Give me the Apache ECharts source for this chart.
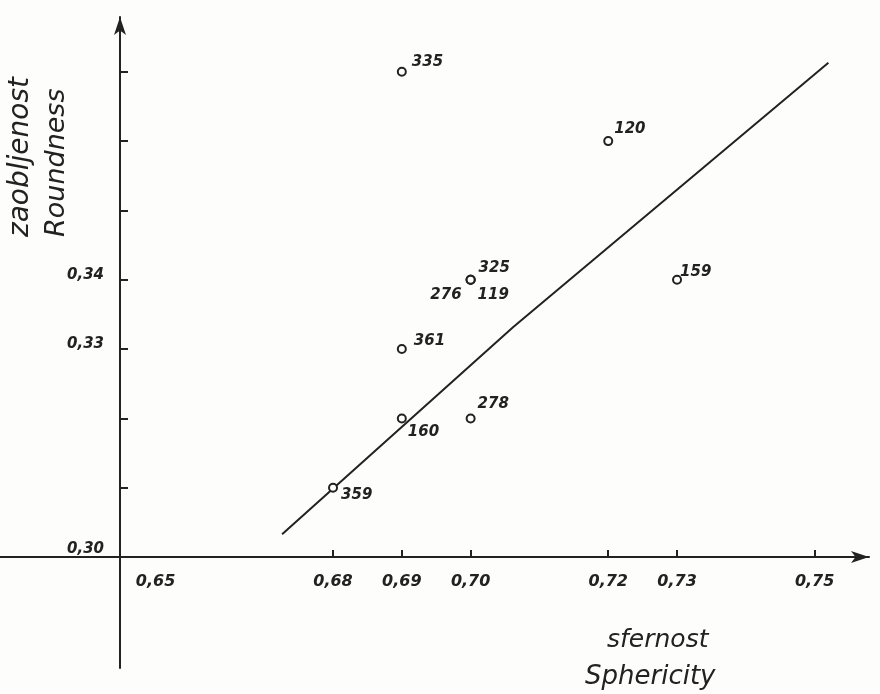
<!DOCTYPE html>
<html>
<head>
<meta charset="utf-8">
<script src="https://cdn.jsdelivr.net/npm/echarts@6/dist/echarts.min.js"></script>
<style>
html,body{margin:0;padding:0;background:#fdfdfb;}
#c{width:880px;height:694px;}
</style>
</head>
<body>
<div id="c"></div>
<script>
// ---- data ----
const sampleIds  = ['335', '120', '325', '276', '119', '159', '361', '160', '278', '359'];
const sphericity = [0.69, 0.72, 0.70, 0.70, 0.70, 0.73, 0.69, 0.69, 0.70, 0.68];
const roundness  = [0.37, 0.36, 0.34, 0.34, 0.34, 0.34, 0.33, 0.32, 0.32, 0.31];

// hand-drawn trend line
const fitSphericity = [0.6726, 0.7062, 0.7520];
const fitRoundness  = [0.3033, 0.3332, 0.3713];

// ticks and tick labels
const xTickValues  = [0.68, 0.69, 0.70, 0.72, 0.73, 0.75];
const xLabelValues = [0.65, 0.68, 0.69, 0.70, 0.72, 0.73, 0.75];
const yTickValues  = [0.31, 0.32, 0.33, 0.34, 0.35, 0.36, 0.37];
const yLabelValues = [0.30, 0.33, 0.34];

const xTitle = ['sfernost', 'Sphericity'];
const yTitle = ['zaobljenost', 'Roundness'];

// ---- styling ----
const INK = '#222222';
const FONT = '"DejaVu Sans", "Liberation Sans", sans-serif';

// label placement per sample id: [position, offset]
const labelPlace = {
  '335': ['right', [5, -10]],
  '120': ['right', [1, -12]],
  '325': ['right', [3, -12]],
  '276': ['left',  [-4, 15]],
  '119': ['right', [2, 15]],
  '159': ['right', [-2, -8]],
  '361': ['right', [7, -8]],
  '160': ['right', [1, 14]],
  '278': ['right', [2, -14]],
  '359': ['right', [3, 7]]
};

const fmt = v => v.toFixed(2).replace('.', ',');
const near = (a, b) => Math.abs(a - b) < 1e-9;

const pointData = sampleIds.map((id, i) => {
  const p = labelPlace[id];
  return {
    name: id,
    value: [sphericity[i], roundness[i]],
    label: { position: p[0], offset: p[1], distance: 0, formatter: id }
  };
});

const lineData = fitSphericity.map((x, i) => [x, fitRoundness[i]]);

const chart = echarts.init(document.getElementById('c'), null, { renderer: 'canvas' });

const labelFont = {
  fontFamily: FONT, fontWeight: 'bold', fontStyle: 'italic', color: INK
};

chart.setOption({
  backgroundColor: '#fdfdfb',
  animation: false,
  grid: { left: 0, top: 17, width: 869, height: 651, containLabel: false, outerBoundsMode: 'none' },
  xAxis: {
    type: 'value',
    min: 0.6316, max: 0.7579,
    offset: -111,
    splitLine: { show: false },
    axisLine: {
      show: true, onZero: false,
      lineStyle: { color: INK, width: 2 },
      symbol: ['none', 'arrow'], symbolSize: [9, 18]
    },
    axisTick: {
      show: true, inside: true, length: 7,
      customValues: xTickValues,
      lineStyle: { color: INK, width: 2 }
    },
    axisLabel: Object.assign({
      show: true, margin: 17, fontSize: 16,
      customValues: xLabelValues,
      formatter: v => near(v, 0.65) ? '{a|' + fmt(v) + '}' : fmt(v),
      rich: { a: Object.assign({ fontSize: 16, padding: [0, 0, 0, 58] }, labelFont) }
    }, labelFont)
  },
  yAxis: {
    type: 'value',
    min: 0.2840, max: 0.3779,
    offset: -120,
    splitLine: { show: false },
    axisLine: {
      show: true, onZero: false,
      lineStyle: { color: INK, width: 2 },
      symbol: ['none', 'arrow'], symbolSize: [9, 18]
    },
    axisTick: {
      show: true, inside: true, length: 8,
      customValues: yTickValues,
      lineStyle: { color: INK, width: 2 }
    },
    axisLabel: Object.assign({
      show: true, margin: 16, fontSize: 15,
      padding: [0, 0, 10, 0],
      customValues: yLabelValues,
      formatter: v => near(v, 0.30) ? '{b|' + fmt(v) + '}' : fmt(v),
      rich: { b: Object.assign({ fontSize: 15, padding: [0, 0, 6, 0] }, labelFont) }
    }, labelFont)
  },
  series: [
    {
      type: 'line',
      data: lineData,
      showSymbol: false,
      symbol: 'none',
      lineStyle: { color: INK, width: 2 },
      z: 1,
      silent: true
    },
    {
      type: 'scatter',
      data: pointData,
      symbol: 'emptyCircle',
      symbolSize: 8,
      itemStyle: { color: INK, borderColor: INK, borderWidth: 2, opacity: 1 },
      label: Object.assign({ show: true, fontSize: 15, opacity: 1 }, labelFont),
      z: 3
    }
  ],
  graphic: [
    {
      type: 'text', x: 21, y: 237, rotation: Math.PI / 2,
      style: { text: yTitle[0], fill: INK, font: 'italic 28px ' + FONT, align: 'left', verticalAlign: 'middle' }
    },
    {
      type: 'text', x: 57, y: 237, rotation: Math.PI / 2,
      style: { text: yTitle[1], fill: INK, font: 'italic 27px ' + FONT, align: 'left', verticalAlign: 'middle' }
    },
    {
      type: 'text', x: 607, y: 640,
      style: { text: xTitle[0], fill: INK, font: 'italic 25px ' + FONT, align: 'left', verticalAlign: 'middle' }
    },
    {
      type: 'text', x: 585, y: 677,
      style: { text: xTitle[1], fill: INK, font: 'italic 26px ' + FONT, align: 'left', verticalAlign: 'middle' }
    }
  ]
});
</script>
</body>
</html>
